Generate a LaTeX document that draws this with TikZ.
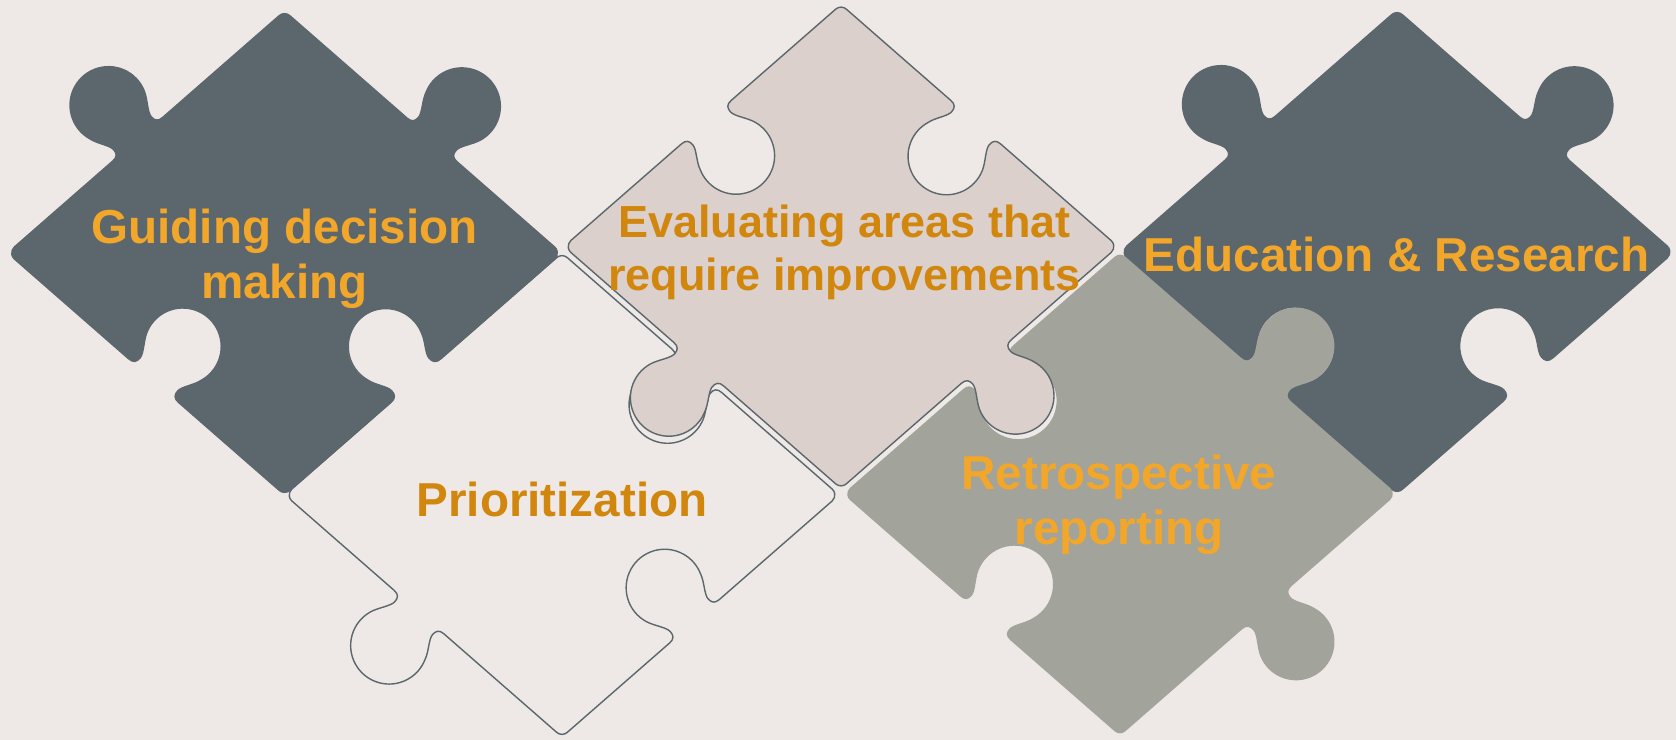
\documentclass[tikz,border=0pt]{standalone}
\usepackage{fontspec}
\setmainfont{Liberation Sans}
\definecolor{bgcol}{HTML}{EEE9E6}
\definecolor{slate}{HTML}{5B676D}
\definecolor{taupe}{HTML}{DBD0CB}
\definecolor{stone}{HTML}{A2A39B}
\definecolor{gold}{HTML}{F2A62A}
\definecolor{amber}{HTML}{D1860D}
\tikzset{
  darkpiece/.style={fill=slate,draw=slate,line width=0.8pt},
  greypiece/.style={fill=stone},
  blankpiece/.style={fill=bgcol,draw=slate,line width=0.8pt},
  lightpiece/.style={fill=taupe,draw=slate,line width=0.8pt},
  piecetext/.style={font=\bfseries\fontsize{27.1}{31.5}\selectfont,align=center,inner sep=0pt},
}
% #4..#7: knob/slide for the lower right, upper right, upper left and lower left edge
\newcommand{\puzzlepiece}[7]{%
  \path[#1,shift={(#2,#3)}]
    ([shift={(138.5,-121)},rotate=41.14]-60,0)
    \foreach \mx/\my/\th/\knob/\slide/\dd/\nx/\ny/\nth in {138.5/-121/41.14/#4/9.16/138.5/121/138.86,
        138.5/121/138.86/#5/6.99/-138.5/121/221.14, -138.5/121/221.14/#6/9.16/-138.5/-121/318.86,
        -138.5/-121/318.86/#7/6.99/138.5/-121/401.14}{
      -- ([shift={(\mx,\my)},rotate=\th]{\slide-33},0)
      .. controls ([shift={(\mx,\my)},rotate=\th]{\slide-27},0) and ([shift={(\mx,\my)},rotate=\th]{\slide-25},{-3*\knob})
      .. ([shift={(\mx,\my)},rotate=\th]{\slide-25},{-8*\knob})
      .. controls ([shift={(\mx,\my)},rotate=\th]{\slide-25},{-14*\knob}) and ([shift={(\mx,\my)},rotate=\th]{\slide-33.5},{-23.2*\knob})
      .. ([shift={(\mx,\my)},rotate=\th]{\slide-36.6},{-31.7*\knob})
      arc[start angle={\th+180-20*\knob},end angle={\th+180+200*\knob},radius=38.5]
      .. controls ([shift={(\mx,\my)},rotate=\th]{\slide+33.5},{-23.2*\knob}) and ([shift={(\mx,\my)},rotate=\th]{\slide+25},{-14*\knob})
      .. ([shift={(\mx,\my)},rotate=\th]{\slide+25},{-8*\knob})
      .. controls ([shift={(\mx,\my)},rotate=\th]{\slide+25},{-3*\knob}) and ([shift={(\mx,\my)},rotate=\th]{\slide+27},0)
      .. ([shift={(\mx,\my)},rotate=\th]{\slide+33},0)
      -- ([shift={(\mx,\my)},rotate=\th]{183.9-\dd},0)
      arc[start angle=\th-90,end angle=\nth-90,radius=8]
      -- ([shift={(\nx,\ny)},rotate=\nth]-60,0)
    } -- cycle;
}
\begin{document}
\begin{tikzpicture}[x=0.02cm,y=0.02cm]
  \fill[bgcol] (0,0) rectangle (1676,740);
  \useasboundingbox (0,0) rectangle (1676,740);
  \puzzlepiece{blankpiece}{562}{245}{-1/-8}{-1/5}{1/10}{1/-6}
  \puzzlepiece{darkpiece}{284.5}{487}{-1/-10}{1/-12}{1/11}{-1/10}
  \puzzlepiece{darkpiece}{1397}{488}{-1/-10}{1/-12}{1/11}{-1/10}
  \puzzlepiece{greypiece}{1120}{246}{1/11}{1/-10}{-1/-9}{-1/5}
  \puzzlepiece{lightpiece}{841}{493.5}{1/9}{-1/5}{-1/-5}{1/-5}
  \node[piecetext,text=gold] (guiding) at (284.5,481) {Guiding decision\\making};
  \node[piecetext,text=amber,font=\bfseries\fontsize{25.6}{30.3}\selectfont] (evaluating) at (844.5,488) {Evaluating areas that\\require improvements};
  \node[piecetext,text=gold] (education) at (1396.5,485.5) {Education \& Research};
  \node[piecetext,text=amber] (prioritization) at (562,241) {Prioritization};
  \node[piecetext,text=gold] (retrospective) at (1119,235.5) {Retrospective\\reporting};
\end{tikzpicture}
\end{document}
